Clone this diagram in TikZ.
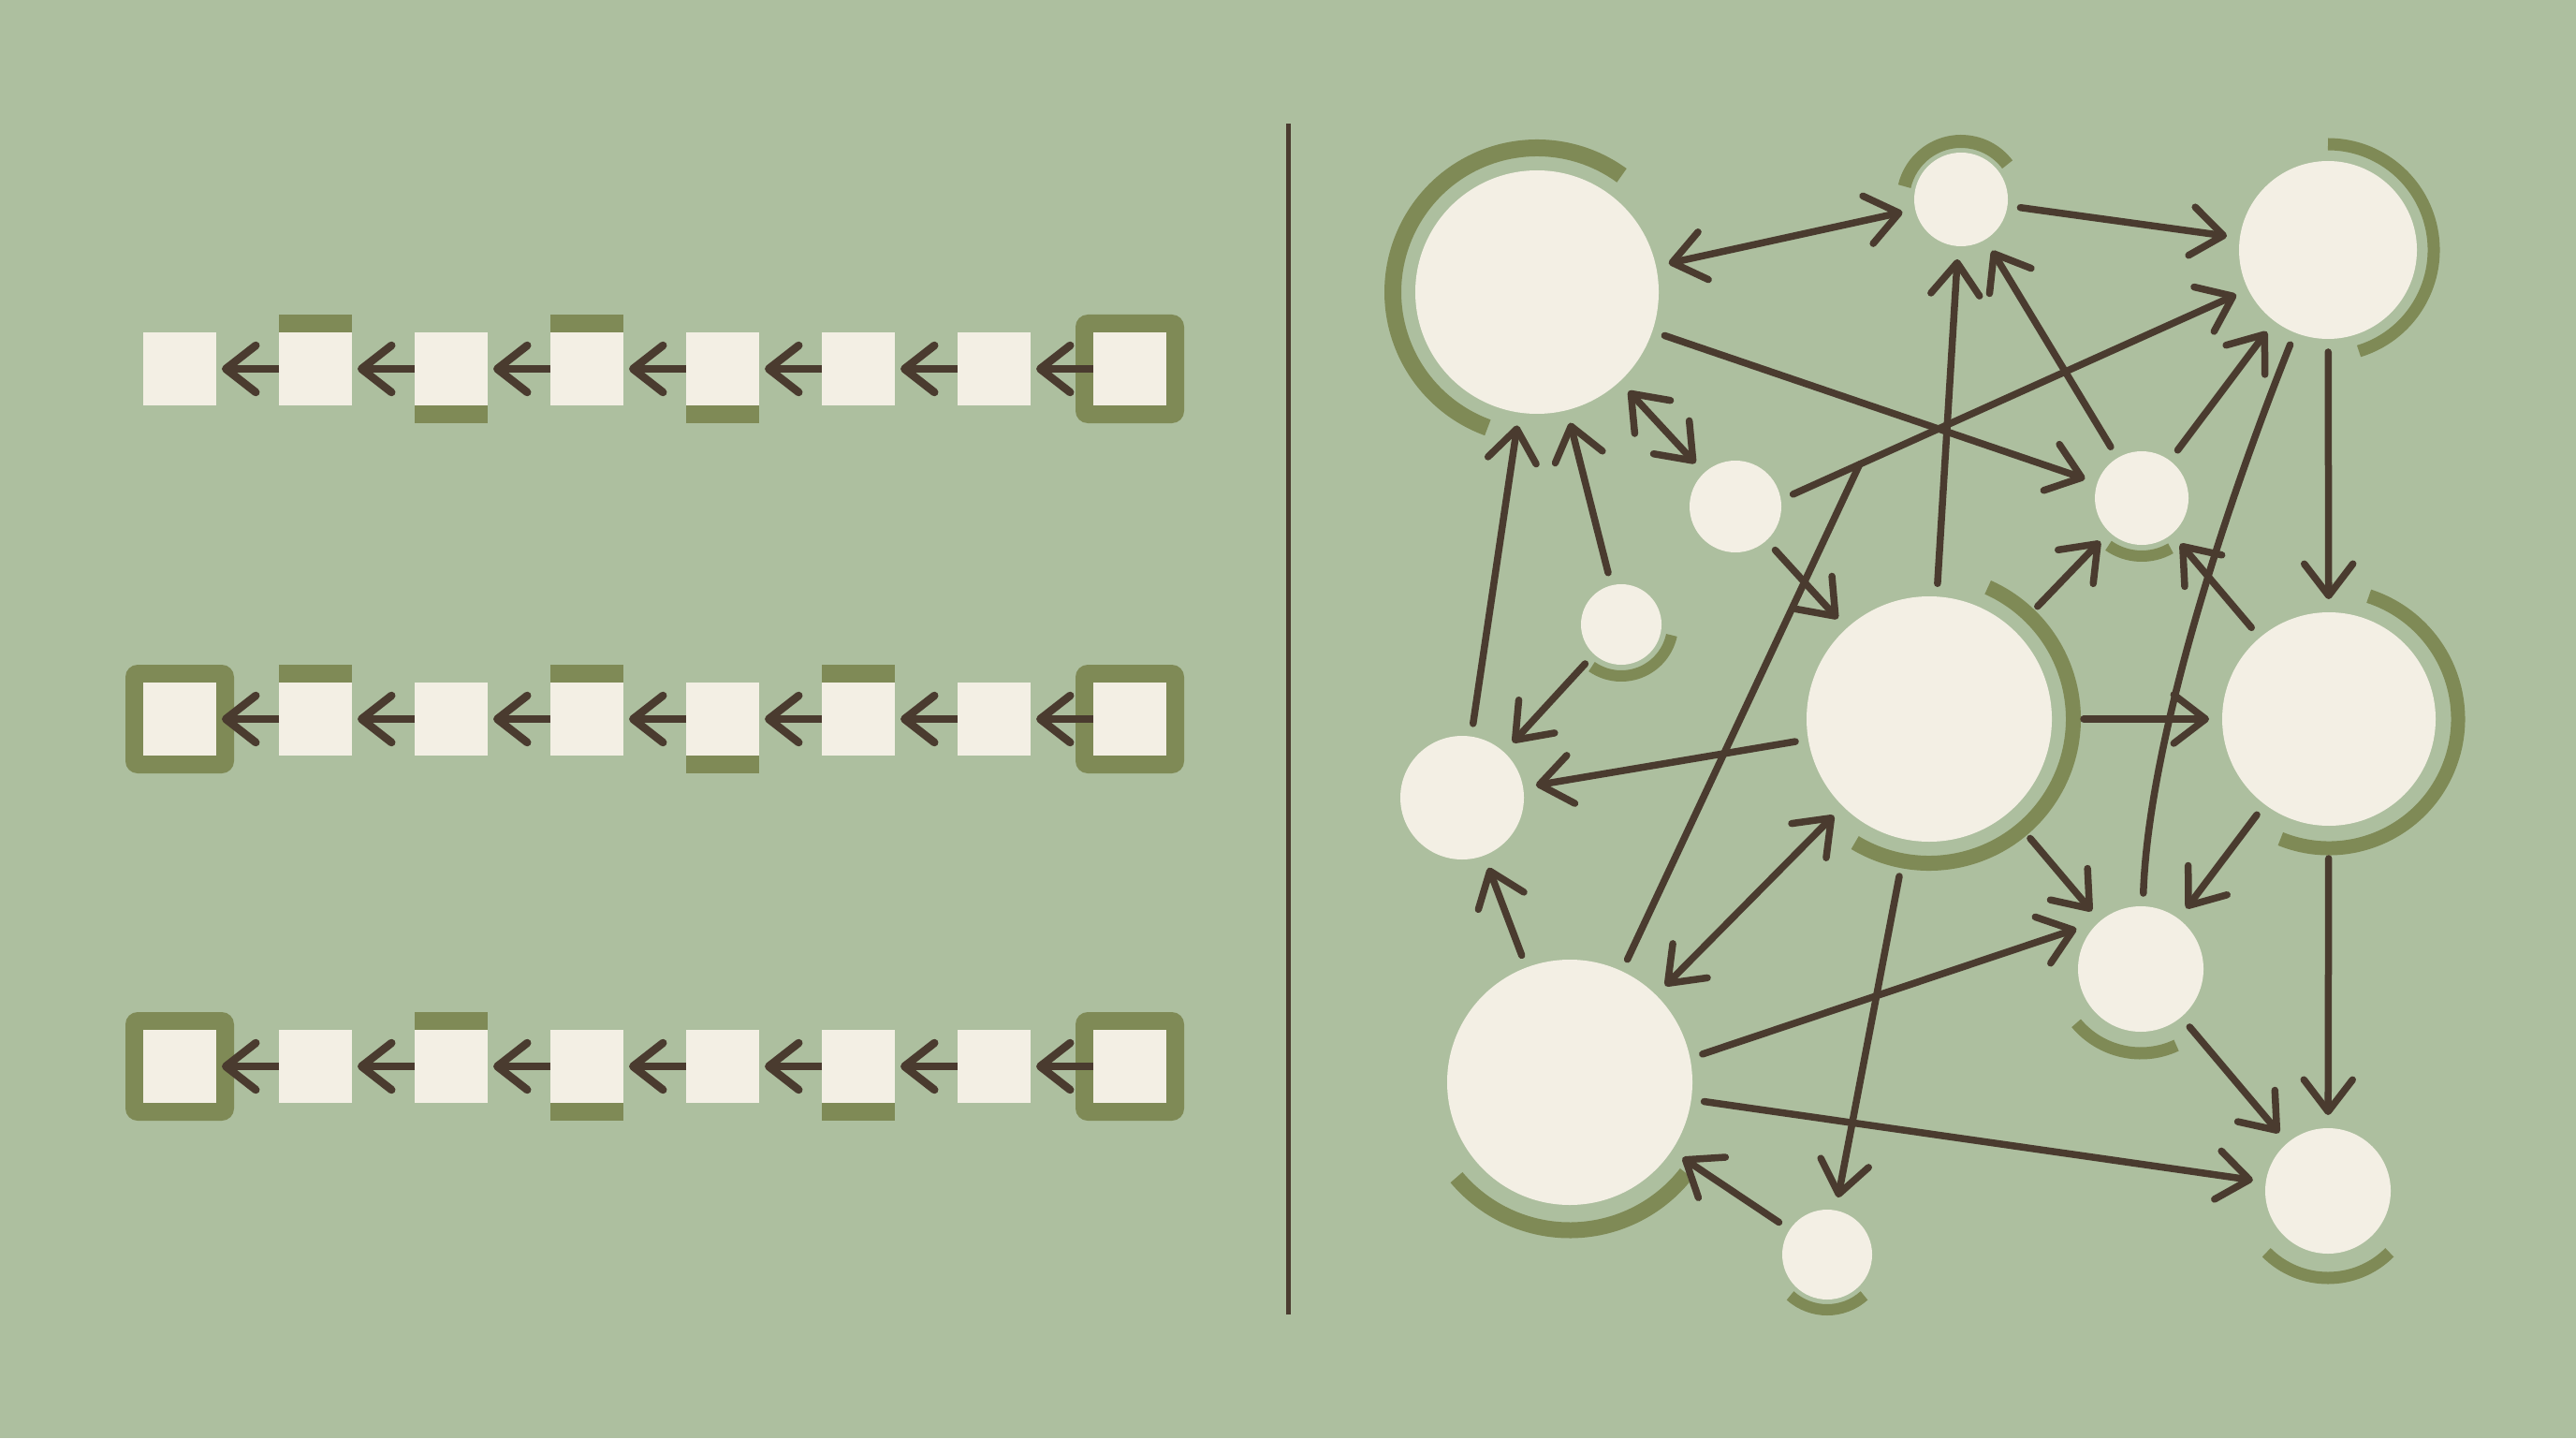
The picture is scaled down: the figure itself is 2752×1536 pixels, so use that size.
\documentclass[tikz,border=0pt]{standalone}
\usetikzlibrary{positioning,calc,arrows.meta}
\definecolor{sage}{HTML}{ADBF9F}
\definecolor{cream}{HTML}{F3EFE4}
\definecolor{moss}{HTML}{7F8A56}
\definecolor{bark}{HTML}{4A3B2F}
\begin{document}
\begin{tikzpicture}[
x=0.1mm,y=0.1mm,
cell/.style={
  fill=cream,
  minimum size=7.8mm,
  inner sep=0pt,
  outer sep=0pt
},
frame/.style={
  fill=moss,
  minimum size=11.6mm,
  rounded corners=1.3mm,
  inner sep=0pt
},
bar/.style={
  fill=moss,
  minimum width=7.8mm,
  minimum height=1.9mm,
  inner sep=0pt,
  outer sep=0pt
},
hop/.style={
  draw=bark,
  line width=0.85mm,
  -{Straight Barb[length=3.2mm,width=5mm,round]}
},
ball/.style={
  circle,
  fill=cream,
  inner sep=0pt,
  outer sep=1.4mm
},
link/.style={
  draw=bark,
  line width=0.75mm,
  line cap=round,
  -{Straight Barb[length=3.4mm,width=5.2mm,round]}
},
both/.style={
  link,
  {Straight Barb[length=3.4mm,width=5.2mm,round]}-{Straight Barb[length=3.4mm,width=5.2mm,round]}
},
plain/.style={draw=bark,line width=0.75mm,line cap=round},
ring/.style={draw=moss}
]
\fill[sage] (0,0) rectangle (2752,1536);

% chains
\foreach \y/\c in {1142/7,768/0,768/7,397/0,397/7}
  \node[frame] at ({192+145*\c},\y) {};
\foreach \r/\y in {1/1142,2/768,3/397}
  \foreach \c in {0,...,7}
    \node[cell] (s\r\c) at ({192+145*\c},\y) {};
\foreach \s in {s11,s13,s21,s23,s25,s32}
  \node[bar,above=0pt of \s] {};
\foreach \s in {s12,s14,s24,s33,s35}
  \node[bar,below=0pt of \s] {};
\foreach \r in {1,2,3}
  \foreach \c [remember=\c as \p (initially 0)] in {1,...,7}
    \draw[hop,shorten >=0.6mm] (s\r\c.west) -- (s\r\p.east);

\draw[bark,line width=0.5mm] (1376,132) -- (1376,1404);

% graph
\node[ball,minimum size=26mm] (A) at (1642,1224) {};
\node[ball,minimum size=10mm] (B) at (2095,1323) {};
\node[ball,minimum size=19mm] (C) at (2487,1269) {};
\node[ball,minimum size=9.8mm] (D) at (1854,995) {};
\node[ball,minimum size=10mm] (E) at (2288,1004) {};
\node[ball,minimum size=8.6mm] (F) at (1732,869) {};
\node[ball,minimum size=13.2mm] (G) at (1562,684) {};
\node[ball,minimum size=26.2mm] (H) at (2061,768) {};
\node[ball,minimum size=22.8mm] (I) at (2488,768) {};
\node[ball,minimum size=13.4mm] (J) at (2287,501) {};
\node[ball,minimum size=26.2mm] (K) at (1677,380) {};
\node[ball,minimum size=9.6mm] (L) at (1952,196) {};
\node[ball,minimum size=13.4mm] (M) at (2487,264) {};

\foreach \n/\a/\b/\r/\w in {A/54/250/154/1.8,B/37/167/62/1.4,C/-73/90/113/1.3,
  E/-125/-60/62/1.2,F/-125/-12/55/1.2,H/-121/66/154/1.6,I/-112/72/138/1.5,
  J/-140/-65/90/1.3,K/-140/-38/158/1.7,L/-132/-48/59/1.2,M/-135/-45/93/1.3}
  \draw[ring,line width=\w mm] ([shift={(\a:\r)}]\n.center) arc[start angle=\a,end angle=\b,radius=\r];

\coordinate (kc) at ($(D.12)!0.15!(C.206)$);

\draw[both] (A) -- (B);
\draw[link] (B) -- (C);
\draw[link] (A) -- (E);
\draw[both] (A) -- (D);
\draw[link] (D) -- (H);
\draw[link] (D.12) -- (C.206);
\draw[link] (H) -- (B);
\draw[link] (E) -- (B);
\draw[link] (E) -- (C);
\draw[plain] (C) .. controls (2370,976) and (2295,736) .. (J);
\draw[link] (C) -- (I);
\draw[link,shorten <=2mm] (H) -- (I);
\draw[link] (H) -- (G);
\draw[link] (F) -- (G);
\draw[link] (G) -- (A);
\draw[link] (F) -- (A);
\draw[link] (K) -- (G);
\draw[plain] (K) -- (kc);
\draw[both] (K) -- (H);
\draw[link] (K.12) -- (J.148);
\draw[link] (K) -- (M);
\draw[link,shorten <=2.6mm] (H) -- (L);
\draw[link] (L) -- (K);
\draw[link,shorten <=2.2mm] (H) -- (J);
\draw[link] (I) -- (J);
\draw[link,shorten <=2.1mm] (I) -- (M);
\draw[link] (J) -- (M);
\draw[link,shorten <=2.2mm] (H) -- (E);
\draw[link] (I) -- (E);
\end{tikzpicture}
\end{document}
